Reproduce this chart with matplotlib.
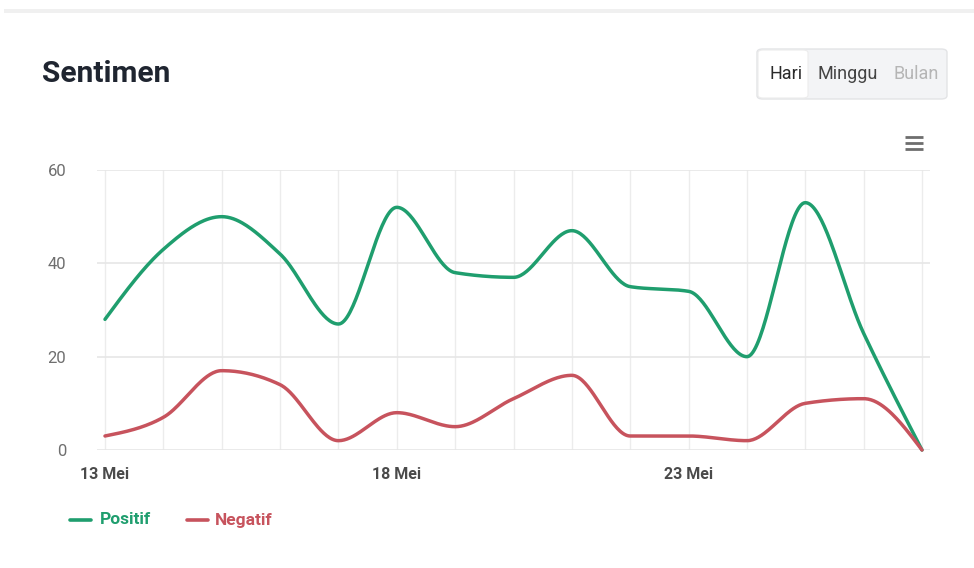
import numpy as np
import matplotlib
matplotlib.use("Agg")
import matplotlib.pyplot as plt
from matplotlib.patches import FancyBboxPatch, Rectangle
from matplotlib.lines import Line2D

plt.rcParams['font.family'] = ['Roboto', 'DejaVu Sans']

days = [13, 14, 15, 16, 17, 18, 19, 20, 21, 22, 23, 24, 25, 26, 27]
positif = [28, 43, 50, 42, 27, 52, 38, 37, 47, 35, 34, 20, 53, 25, 0]
negatif = [3, 7, 17, 14, 2, 8, 5, 11, 16, 3, 3, 2, 10, 11, 0]
tick_days = [13, 18, 23]
tick_labels = ["13 Mei", "18 Mei", "23 Mei"]
y_ticks = [0, 20, 40, 60]
series_names = ["Positif", "Negatif"]
colors = ["#1f9e6e", "#c7535d"]


def monotone_curve(x, y, n=40):
    x = np.asarray(x, float)
    y = np.asarray(y, float)
    h = np.diff(x)
    s = np.diff(y) / h
    m = np.zeros_like(y)
    for i in range(1, len(y) - 1):
        if s[i - 1] * s[i] <= 0:
            m[i] = 0.0
        else:
            p = (s[i - 1] * h[i] + s[i] * h[i - 1]) / (h[i - 1] + h[i])
            m[i] = (np.sign(s[i - 1]) + np.sign(s[i])) * min(abs(s[i - 1]), abs(s[i]), 0.5 * abs(p))
    m[0] = (3 * s[0] - m[1]) / 2 if len(y) > 2 else s[0]
    m[-1] = (3 * s[-1] - m[-2]) / 2 if len(y) > 2 else s[-1]
    xs, ys = [], []
    for i in range(len(h)):
        t = np.linspace(0, 1, n, endpoint=(i == len(h) - 1))
        h00 = 2 * t**3 - 3 * t**2 + 1
        h10 = t**3 - 2 * t**2 + t
        h01 = -2 * t**3 + 3 * t**2
        h11 = t**3 - t**2
        xs.append(x[i] + t * h[i])
        ys.append(h00 * y[i] + h10 * h[i] * m[i] + h01 * y[i + 1] + h11 * h[i] * m[i + 1])
    return np.concatenate(xs), np.concatenate(ys)


W, H = 974, 568
fig = plt.figure(figsize=(W / 100, H / 100), dpi=100)
fig.patch.set_facecolor("white")

# top shadow band
fig.patches.append(Rectangle((4 / W, 1 - 13 / H), 1, 4 / H, transform=fig.transFigure,
                             facecolor="#f0f0f0", edgecolor="none", zorder=0))

# axes placement (pixels)
left_px, right_px, top_px, bottom_px = 97, 930, 170, 450
ax = fig.add_axes([left_px / W, (H - bottom_px) / H, (right_px - left_px) / W, (bottom_px - top_px) / H])
px_per_day = (922 - 105) / 14.0
ax.set_xlim(days[0] - (105 - left_px) / px_per_day, days[-1] + (right_px - 922) / px_per_day)
ax.set_ylim(0, 60)

for s in ax.spines.values():
    s.set_visible(False)

for d in days:
    ax.axvline(d, color="#ececec", lw=1, zorder=0)
for yv in y_ticks:
    ax.axhline(yv, color="#e6e6e6", lw=1.2, zorder=0)

for vals, c in zip([positif, negatif], colors):
    xs, ys = monotone_curve(days, vals)
    ax.plot(xs, ys, color=c, lw=2.5, solid_capstyle="round", zorder=3, clip_on=False)

ax.set_yticks(y_ticks)
ax.set_yticklabels([str(v) for v in y_ticks])
ax.set_xticks(tick_days)
ax.set_xticklabels(tick_labels)
ax.tick_params(axis="y", length=0, pad=22, labelsize=12, labelcolor="#6f6f6f")
ax.tick_params(axis="x", length=0, pad=12, labelsize=11.5, labelcolor="#4a4a4a")
for lbl in ax.get_xticklabels():
    lbl.set_fontweight("bold")

# title
fig.text(42 / W, 1 - 74 / H, "Sentimen", fontsize=21.5, fontweight="bold", color="#1f2530",
         va="center", ha="left")

# button group
bx0, bx1, by0, by1 = 757, 947, 49, 99
fig.patches.append(FancyBboxPatch((bx0 / W, 1 - by1 / H), (bx1 - bx0) / W, (by1 - by0) / H,
                                  boxstyle="round,pad=0,rounding_size=0.006", transform=fig.transFigure,
                                  facecolor="#f3f4f6", edgecolor="#e3e4e6", lw=1, zorder=1))
fig.patches.append(FancyBboxPatch(((bx0 + 1) / W, 1 - (by1 - 1) / H), (808 - bx0 - 1) / W, (by1 - by0 - 2) / H,
                                  boxstyle="round,pad=0,rounding_size=0.005", transform=fig.transFigure,
                                  facecolor="white", edgecolor="#ececec", lw=0.8, zorder=2))
yb = 1 - 74 / H
fig.text(786 / W, yb, "Hari", fontsize=13, color="#2a2a2a", ha="center", va="center", zorder=3)
fig.text(848 / W, yb, "Minggu", fontsize=13, color="#444444", ha="center", va="center", zorder=3)
fig.text(916 / W, yb, "Bulan", fontsize=13, color="#b5b5b5", ha="center", va="center", zorder=3)

# hamburger icon
for yy in [137, 143, 149]:
    fig.add_artist(Line2D([905 / W, 923 / W], [1 - yy / H, 1 - yy / H], transform=fig.transFigure,
                          color="#6e6e6e", lw=2.0, solid_capstyle="butt"))

# legend
ly = 1 - 520 / H
for (name, c, x0, tx) in [(series_names[0], colors[0], 70, 100), (series_names[1], colors[1], 187, 215)]:
    fig.add_artist(Line2D([x0 / W, (x0 + 21) / W], [ly, ly], transform=fig.transFigure,
                          color=c, lw=2.6, solid_capstyle="round"))
    fig.text(tx / W, ly, name, fontsize=12.5, fontweight="bold", color=c, ha="left", va="center")

fig.savefig("out.png", dpi=100, facecolor="white")
